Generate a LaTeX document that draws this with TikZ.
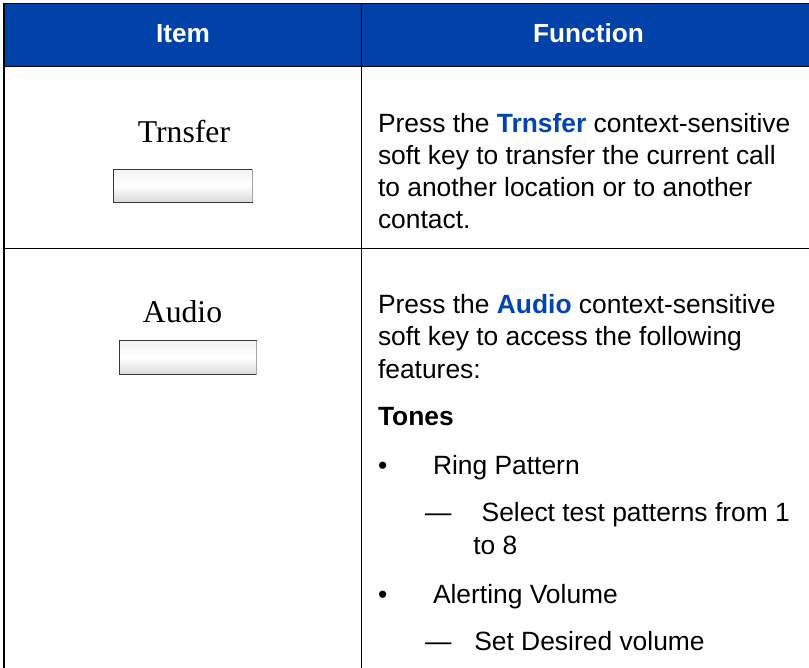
\documentclass[tikz,border=0pt]{standalone}
\usepackage{fontspec}
\setmainfont{Liberation Sans}
\newfontfamily\keyserif{Liberation Serif}
\definecolor{hdrblue}{RGB}{0,65,170}
\definecolor{kwblue}{RGB}{0,68,178}
\begin{document}
\begin{tikzpicture}[x=1pt,y=-1pt,
  every node/.style={inner sep=0pt,outer sep=0pt},
  rulel/.style={draw=black,line width=1.1pt},
  hdr/.style={font=\fontsize{26.2}{30}\selectfont\bfseries,text=white,anchor=base},
  body/.style={font=\fontsize{26.4}{30}\selectfont,anchor=base west},
  keylbl/.style={font=\keyserif\fontsize{31.7}{36}\selectfont,anchor=base},
  keybtn/.style={draw=gray!45!black,line width=1pt,top color=gray!10,bottom color=gray!30,middle color=white}]
\useasboundingbox (0,0) rectangle (809,668);
% header
\fill[hdrblue] (4,3.3) rectangle (815,66.7);
\draw[rulel] (4,3.3) -- (815,3.3);
\draw[rulel] (4,66.7) -- (815,66.7);
\draw[rulel] (4,3.3) -- (4,668);
\draw[rulel] (361.7,3.3) -- (361.7,668);
\draw[rulel] (4,248.3) -- (815,248.3);
\node[hdr] (hitem) at (183,42.7) {Item};
\node[hdr] (hfunc) at (588.5,42.7) {Function};
% row 1
\node[keylbl] (k1) at (184,142.7) {Trnsfer};
\shade[keybtn] (113.3,169.3) rectangle (252.3,202.3);
\draw[gray!70,line width=1pt] (252.3,169.3) -- (252.3,202.3);
\node[body] (r1a) at (378,132.7) {Press the \textbf{\color{kwblue}Trnsfer} context-sensitive};
\node[body] (r1b) at (378,165) {soft key to transfer the current call};
\node[body] (r1c) at (378,196.7) {to another location or to another};
\node[body] (r1d) at (378,228.3) {contact.};
% row 2
\node[keylbl] (k2) at (182.5,322.7) {Audio};
\shade[keybtn] (119,340.7) rectangle (256.7,375);
\draw[gray!70,line width=1pt] (256.7,340.7) -- (256.7,375);
\node[body] (r2a) at (378,313.3) {Press the \textbf{\color{kwblue}Audio} context-sensitive};
\node[body] (r2b) at (378,346) {soft key to access the following};
\node[body] (r2c) at (378,378.3) {features:};
\node[body,font=\fontsize{26.4}{30}\selectfont\bfseries] (tones) at (378,425.7) {Tones};
\node[body] (b1) at (378,474) {•};
\node[body] (ring) at (433,474) {Ring Pattern};
\node[body] (d1) at (425,521.7) {—};
\node[body] (sel) at (481.7,521.7) {Select test patterns from 1};
\node[body] (to8) at (473.3,554.3) {to 8};
\node[body] (b2) at (378,603.3) {•};
\node[body] (alert) at (433,603.3) {Alerting Volume};
\node[body] (d2) at (425,650.7) {—};
\node[body] (setv) at (474.3,650.7) {Set Desired volume};
\end{tikzpicture}
\end{document}
